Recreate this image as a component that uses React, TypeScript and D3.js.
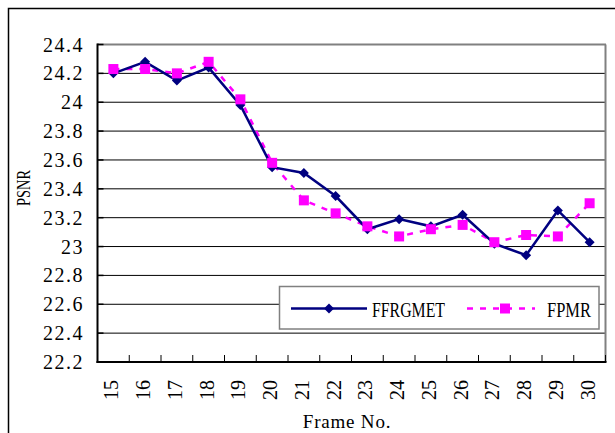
import React from 'react';
import * as d3 from 'd3';

const categories = ['15','16','17','18','19','20','21','22','23','24','25','26','27','28','29','30'];
const ffrgmet = [24.20, 24.28, 24.15, 24.24, 23.98, 23.55, 23.51, 23.35, 23.12, 23.19, 23.14, 23.22, 23.02, 22.94, 23.25, 23.03];
const fpmr = [24.23, 24.23, 24.20, 24.28, 24.02, 23.58, 23.32, 23.23, 23.14, 23.07, 23.12, 23.15, 23.03, 23.08, 23.07, 23.30];
const yTicks = [22.2, 22.4, 22.6, 22.8, 23, 23.2, 23.4, 23.6, 23.8, 24, 24.2, 24.4];
const seriesNames = ['FFRGMET', 'FPMR'];

const FONT = '"Liberation Serif", "DejaVu Serif", serif';
const NAVY = '#000080';
const MAGENTA = '#FF00FF';

export default function App() {
  const left = 97.5, right = 605.5, top = 44.5, bottom = 362;
  const x = d3.scaleBand<string>().domain(categories).range([left, right]);
  const y = d3.scaleLinear().domain([22.2, 24.4]).range([bottom, top]);
  const cx = (c: string) => (x(c) as number) + x.bandwidth() / 2;
  const line = d3.line<number>().x((_, i) => cx(categories[i])).y((v) => y(v));
  const diamond = (px: number, py: number, r = 5) =>
    `M${px},${py - r}L${px + r},${py}L${px},${py + r}L${px - r},${py}Z`;
  const boundaries = d3.range(categories.length + 1).map((i) => left + i * x.bandwidth());

  return (
    <svg width={615} height={433} style={{ position: 'absolute', left: 0, top: 0, background: '#fff' }}>
      <rect x={8.5} y={8.5} width={700} height={500} fill="#fff" stroke="#000" strokeWidth={1.5} />
      {/* gridlines */}
      {yTicks.filter((t) => t > 22.2 && t < 24.4).map((t) => (
        <line key={t} x1={left} x2={right} y1={y(t)} y2={y(t)} stroke="#000" strokeWidth={1} />
      ))}
      {/* plot border top/right */}
      <line x1={left} x2={right + 0.5} y1={top} y2={top} stroke="#808080" strokeWidth={2} />
      <line x1={right} x2={right} y1={top} y2={bottom} stroke="#808080" strokeWidth={2} />
      {/* axes */}
      <line x1={left} x2={left} y1={top - 1} y2={bottom + 1} stroke="#000" strokeWidth={2} />
      <line x1={left - 1} x2={right + 1} y1={bottom} y2={bottom} stroke="#000" strokeWidth={2} />
      {yTicks.map((t) => (
        <line key={'yt' + t} x1={left} x2={left + 6} y1={y(t)} y2={y(t)} stroke="#000" strokeWidth={1.5} />
      ))}
      {boundaries.map((bx, i) => (
        <line key={'xt' + i} x1={bx} x2={bx} y1={bottom - 7} y2={bottom} stroke="#000" strokeWidth={1} />
      ))}
      {/* y tick labels */}
      {yTicks.map((t) => (
        <text key={'yl' + t} x={84} y={y(t)} dy="0.35em" textAnchor="end" fontFamily={FONT} fontSize={20}
          letterSpacing={1.5} fill="#000">{String(t)}</text>
      ))}
      {/* x tick labels */}
      {categories.map((c) => (
        <text key={'xl' + c} transform={`translate(${cx(c) - 2},380) rotate(-90)`} textAnchor="end" dy="0.35em"
          fontFamily={FONT} fontSize={20} fill="#000">{c}</text>
      ))}
      {/* axis titles */}
      <text x={347} y={428} textAnchor="middle" fontFamily={FONT} fontSize={19} letterSpacing={0.8} fill="#000">Frame No.</text>
      <text transform="translate(30,188) rotate(-90)" textAnchor="middle" fontFamily={FONT} fontSize={18}
        textLength={36} lengthAdjust="spacingAndGlyphs" fill="#000">PSNR</text>
      {/* series */}
      <path d={line(fpmr) || ''} fill="none" stroke={MAGENTA} strokeWidth={2.5} strokeDasharray="6,7" />
      <path d={line(ffrgmet) || ''} fill="none" stroke={NAVY} strokeWidth={2.5} />
      {ffrgmet.map((v, i) => (
        <path key={'d' + i} d={diamond(cx(categories[i]), y(v))} fill={NAVY} />
      ))}
      {fpmr.map((v, i) => (
        <rect key={'s' + i} x={cx(categories[i]) - 5} y={y(v) - 5} width={10} height={10} fill={MAGENTA} />
      ))}
      {/* legend */}
      <rect x={279.5} y={286.5} width={319.5} height={42.5} fill="#fff" stroke="#808080" strokeWidth={1.5} />
      <line x1={291} x2={367} y1={308.5} y2={308.5} stroke={NAVY} strokeWidth={2.5} />
      <path d={diamond(329, 308.5)} fill={NAVY} />
      <text x={372} y={316.5} fontFamily={FONT} fontSize={20} textLength={73} lengthAdjust="spacingAndGlyphs" fill="#000">{seriesNames[0]}</text>
      <line x1={467} x2={535} y1={308.5} y2={308.5} stroke={MAGENTA} strokeWidth={2.5} strokeDasharray="6,7" />
      <rect x={500} y={303.5} width={10} height={10} fill={MAGENTA} />
      <text x={547} y={316.5} fontFamily={FONT} fontSize={20} textLength={44} lengthAdjust="spacingAndGlyphs" fill="#000">{seriesNames[1]}</text>
    </svg>
  );
}
